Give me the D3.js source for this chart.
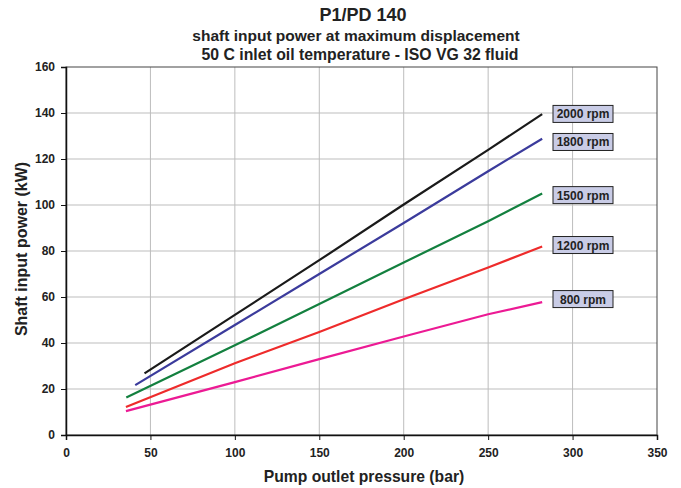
<!DOCTYPE html>
<html><head><meta charset="utf-8">
<script src="https://cdn.jsdelivr.net/npm/d3@7"></script>
<style>body{margin:0;background:#fff}text{font-family:"Liberation Sans",Arial,sans-serif;font-weight:bold;fill:#222}</style>
</head><body><svg id="c" width="681" height="488"></svg>
<script>
const xTicks=[0,50,100,150,200,250,300,350];
const yTicks=[0,20,40,60,80,100,120,140,160];
const seriesNames=["2000 rpm","1800 rpm","1500 rpm","1200 rpm","800 rpm"];
const seriesColors=["#1a1a1a","#3b3b9c","#13803f","#ee2b2b","#ec1a94"];
const pressure2000=[46.5,100,150,200,250,282];
const power2000=[26.8,52.2,76,100.2,124,139.5];
const pressure1800=[41,100,150,200,250,282];
const power1800=[21.7,47.8,70,92.2,114.7,128.8];
const pressure1500=[35.7,100,150,200,250,282];
const power1500=[16.3,39,57,75,92.9,105];
const pressure1200=[35.5,100,150,200,250,282];
const power1200=[12.2,31.2,44.8,59,72.8,82];
const pressure800=[35.5,100,150,200,250,282];
const power800=[10.4,23,33,42.8,52.5,57.8];
const labelValues=[139.6,127.4,104.3,82.6,59.1];
const pressures=[pressure2000,pressure1800,pressure1500,pressure1200,pressure800];
const powers=[power2000,power1800,power1500,power1200,power800];

const svg=d3.select("#c");
const x=d3.scaleLinear().domain([0,350]).range([66,657]);
const y=d3.scaleLinear().domain([0,160]).range([435,67]);

svg.append("g").selectAll("line").data(xTicks.slice(1,-1)).join("line")
 .attr("x1",d=>x(d)).attr("x2",d=>x(d)).attr("y1",y(0)).attr("y2",y(160))
 .attr("stroke","#bdbdbd").attr("stroke-width",1);
svg.append("g").selectAll("line").data(yTicks.slice(1,-1)).join("line")
 .attr("x1",x(0)).attr("x2",x(350)).attr("y1",d=>y(d)).attr("y2",d=>y(d))
 .attr("stroke","#bdbdbd").attr("stroke-width",1);
svg.append("rect").attr("x",x(0)).attr("y",y(160)).attr("width",x(350)-x(0)).attr("height",y(0)-y(160))
 .attr("fill","none").attr("stroke","#444").attr("stroke-width",1);

const xa=svg.append("g").attr("transform",`translate(0,${y(0)})`)
 .call(d3.axisBottom(x).tickValues(xTicks).tickSize(5).tickPadding(8));
const ya=svg.append("g").attr("transform",`translate(${x(0)},0)`)
 .call(d3.axisLeft(y).tickValues(yTicks).tickSize(5).tickPadding(6));
[xa,ya].forEach(a=>{a.select(".domain").attr("stroke","#111").attr("stroke-width",1.5);
 a.selectAll(".tick line").attr("stroke","#111");
 a.selectAll(".tick text").attr("font-size",12).attr("font-family","Liberation Sans, Arial, sans-serif").attr("font-weight","bold").attr("fill","#222");});

const line=d3.line().x(d=>x(d[0])).y(d=>y(d[1]));
seriesNames.forEach((n,i)=>{
 const pts=pressures[i].map((p,j)=>[p,powers[i][j]]);
 svg.append("path").datum(pts).attr("d",line).attr("fill","none")
  .attr("stroke",seriesColors[i]).attr("stroke-width",2.2);
 const ly=y(labelValues[i]);
 const g=svg.append("g");
 g.append("rect").attr("x",553).attr("y",ly-8.5).attr("width",60).attr("height",17)
  .attr("fill","#c9cce6").attr("stroke","#222").attr("stroke-width",1);
 g.append("text").attr("x",583).attr("y",ly+4.5).attr("text-anchor","middle").attr("font-size",12).text(n);
});

svg.append("text").attr("x",363).attr("y",21).attr("text-anchor","middle").attr("font-size",18).text("P1/PD 140");
svg.append("text").attr("x",356).attr("y",41).attr("text-anchor","middle").attr("font-size",15.5).text("shaft input power at maximum displacement");
svg.append("text").attr("x",360).attr("y",60).attr("text-anchor","middle").attr("font-size",15.8).text("50 C inlet oil temperature - ISO VG 32 fluid");
svg.append("text").attr("x",364).attr("y",482).attr("text-anchor","middle").attr("font-size",15.7).text("Pump outlet pressure (bar)");
svg.append("text").attr("transform","translate(27,249) rotate(-90)").attr("text-anchor","middle").attr("font-size",16).text("Shaft input power (kW)");
</script></body></html>
